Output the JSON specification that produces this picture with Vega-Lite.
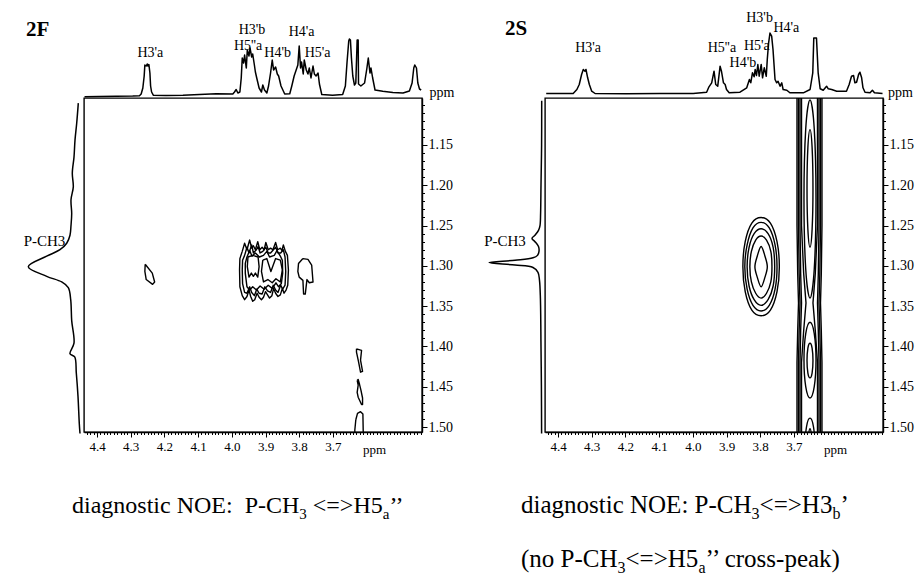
{
"$schema": "https://vega.github.io/schema/vega-lite/v6.json",
"padding": 0,
"background": "white",
"columns": 4,
"spacing": 0,
"bounds": "flush",
"align": "each",
"config": {"view": {"stroke": null}, "text": {"font": "Liberation Serif", "color": "black"}, "line": {"color": "black"},
  "axis": {"grid": false, "labelFont": "Liberation Serif", "labelColor": "black", "tickColor": "black", "domainColor": "black", "labelOverlap": false, "labelFlush": false, "labelBound": false, "titleFont": "Liberation Serif", "titleColor": "black", "titleFontWeight": "normal"}},
"datasets": {
"top2F": [{"x":4.437,"v":1.2},{"x":4.393,"v":1.5},{"x":4.343,"v":1.7},{"x":4.294,"v":2.0},{"x":4.274,"v":2.3},{"x":4.269,"v":4},{"x":4.264,"v":10},{"x":4.260,"v":22},{"x":4.258,"v":33},{"x":4.254,"v":32},{"x":4.251,"v":34},{"x":4.249,"v":32},{"x":4.246,"v":33.5},{"x":4.243,"v":25},{"x":4.241,"v":12},{"x":4.238,"v":6},{"x":4.233,"v":2.8},{"x":4.195,"v":2.5},{"x":4.145,"v":2.8},{"x":4.096,"v":3.6},{"x":4.046,"v":4.2},{"x":3.997,"v":4},{"x":3.992,"v":6},{"x":3.987,"v":8.5},{"x":3.982,"v":5},{"x":3.976,"v":6},{"x":3.972,"v":20},{"x":3.969,"v":40},{"x":3.965,"v":35},{"x":3.962,"v":43},{"x":3.957,"v":30},{"x":3.954,"v":48},{"x":3.949,"v":42},{"x":3.946,"v":50},{"x":3.941,"v":41},{"x":3.938,"v":44},{"x":3.933,"v":33},{"x":3.930,"v":26},{"x":3.926,"v":20},{"x":3.919,"v":10},{"x":3.912,"v":6},{"x":3.908,"v":13},{"x":3.903,"v":8},{"x":3.896,"v":5},{"x":3.891,"v":12},{"x":3.885,"v":25},{"x":3.880,"v":38},{"x":3.876,"v":28},{"x":3.870,"v":31},{"x":3.865,"v":24},{"x":3.861,"v":22},{"x":3.854,"v":12},{"x":3.843,"v":4},{"x":3.828,"v":4.2},{"x":3.822,"v":12},{"x":3.815,"v":22},{"x":3.809,"v":28},{"x":3.804,"v":33},{"x":3.800,"v":52},{"x":3.796,"v":30},{"x":3.793,"v":36},{"x":3.788,"v":24},{"x":3.785,"v":38},{"x":3.779,"v":28},{"x":3.774,"v":24},{"x":3.770,"v":30},{"x":3.765,"v":20},{"x":3.759,"v":32},{"x":3.755,"v":24},{"x":3.750,"v":22},{"x":3.744,"v":25},{"x":3.740,"v":14},{"x":3.733,"v":3.5},{"x":3.701,"v":2.8},{"x":3.671,"v":3.5},{"x":3.663,"v":12},{"x":3.658,"v":36},{"x":3.653,"v":57},{"x":3.651,"v":59},{"x":3.648,"v":58},{"x":3.645,"v":40},{"x":3.641,"v":22},{"x":3.636,"v":13},{"x":3.632,"v":15},{"x":3.628,"v":58},{"x":3.625,"v":58},{"x":3.624,"v":14},{"x":3.617,"v":12},{"x":3.606,"v":15},{"x":3.599,"v":30},{"x":3.595,"v":40},{"x":3.590,"v":25},{"x":3.587,"v":30},{"x":3.582,"v":20},{"x":3.575,"v":8},{"x":3.552,"v":6.8},{"x":3.522,"v":5.5},{"x":3.492,"v":5},{"x":3.473,"v":7},{"x":3.465,"v":15},{"x":3.460,"v":30},{"x":3.457,"v":33},{"x":3.452,"v":30},{"x":3.448,"v":15},{"x":3.443,"v":9},{"x":3.438,"v":8}],
"top2S": [{"x":4.435,"v":4.5},{"x":4.355,"v":4.5},{"x":4.344,"v":8.5},{"x":4.337,"v":13.5},{"x":4.330,"v":23.5},{"x":4.325,"v":28.5},{"x":4.320,"v":26.8},{"x":4.317,"v":28.5},{"x":4.312,"v":20.2},{"x":4.307,"v":13.5},{"x":4.300,"v":6.8},{"x":4.290,"v":4.5},{"x":4.197,"v":4.2},{"x":4.098,"v":4.5},{"x":3.999,"v":4.5},{"x":3.959,"v":5.8},{"x":3.952,"v":11.2},{"x":3.944,"v":15.2},{"x":3.937,"v":26.8},{"x":3.932,"v":13.5},{"x":3.926,"v":11.8},{"x":3.919,"v":31.8},{"x":3.915,"v":26.8},{"x":3.909,"v":15.2},{"x":3.904,"v":13.5},{"x":3.900,"v":8.5},{"x":3.892,"v":5.2},{"x":3.860,"v":5.8},{"x":3.840,"v":10.2},{"x":3.832,"v":18.5},{"x":3.828,"v":15.2},{"x":3.823,"v":25.2},{"x":3.818,"v":21.2},{"x":3.815,"v":28.5},{"x":3.811,"v":22.5},{"x":3.807,"v":33.5},{"x":3.803,"v":21.8},{"x":3.797,"v":33.5},{"x":3.793,"v":20.2},{"x":3.788,"v":30.2},{"x":3.782,"v":21.8},{"x":3.779,"v":38.5},{"x":3.775,"v":55.2},{"x":3.771,"v":65},{"x":3.766,"v":61.8},{"x":3.762,"v":48.5},{"x":3.756,"v":18.5},{"x":3.751,"v":15.2},{"x":3.747,"v":16.8},{"x":3.741,"v":11.8},{"x":3.736,"v":15.2},{"x":3.732,"v":8.5},{"x":3.721,"v":7.8},{"x":3.712,"v":5.2},{"x":3.672,"v":5.2},{"x":3.652,"v":8.5},{"x":3.644,"v":25.2},{"x":3.641,"v":60},{"x":3.633,"v":60},{"x":3.628,"v":25.2},{"x":3.622,"v":9.2},{"x":3.613,"v":7.8},{"x":3.603,"v":11.8},{"x":3.598,"v":9.2},{"x":3.588,"v":8.5},{"x":3.573,"v":6.8},{"x":3.544,"v":6.8},{"x":3.536,"v":13.5},{"x":3.529,"v":21.8},{"x":3.523,"v":22.5},{"x":3.519,"v":15.2},{"x":3.514,"v":15.8},{"x":3.508,"v":23.5},{"x":3.504,"v":25.8},{"x":3.499,"v":20.2},{"x":3.495,"v":10.2},{"x":3.489,"v":5.8},{"x":3.474,"v":5.2},{"x":3.467,"v":7.8},{"x":3.461,"v":5.2},{"x":3.437,"v":4.5}],
"left2F": [{"y":1.098,"u":5.7},{"y":1.123,"u":7.3},{"y":1.144,"u":9},{"y":1.165,"u":10},{"y":1.185,"u":11.7},{"y":1.202,"u":10.7},{"y":1.218,"u":13},{"y":1.235,"u":12.3},{"y":1.250,"u":13},{"y":1.262,"u":14},{"y":1.272,"u":17.3},{"y":1.280,"u":24},{"y":1.288,"u":37.3},{"y":1.301,"u":55.7},{"y":1.313,"u":37.3},{"y":1.320,"u":22.3},{"y":1.327,"u":15.7},{"y":1.342,"u":13.3},{"y":1.368,"u":12.3},{"y":1.396,"u":10},{"y":1.409,"u":14},{"y":1.413,"u":9.3},{"y":1.433,"u":7.7},{"y":1.462,"u":6},{"y":1.496,"u":4.7},{"y":1.508,"u":4}],
"left2S": [{"y":1.095,"u":3.3},{"y":1.15,"u":3.4},{"y":1.20,"u":4},{"y":1.235,"u":4.4},{"y":1.250,"u":5},{"y":1.256,"u":6.5},{"y":1.262,"u":10},{"y":1.266,"u":13},{"y":1.270,"u":10},{"y":1.276,"u":6.5},{"y":1.282,"u":6},{"y":1.287,"u":7.5},{"y":1.290,"u":12},{"y":1.293,"u":30},{"y":1.296,"u":56},{"y":1.299,"u":30},{"y":1.302,"u":12},{"y":1.308,"u":7},{"y":1.318,"u":5.5},{"y":1.340,"u":4.6},{"y":1.40,"u":4},{"y":1.45,"u":3.6},{"y":1.508,"u":3.4}],
"c2F": [
{"k":"C1","x":3.969,"y":1.282},{"k":"C1","x":3.962,"y":1.272},{"k":"C1","x":3.955,"y":1.280},{"k":"C1","x":3.947,"y":1.268},{"k":"C1","x":3.941,"y":1.278},{"k":"C1","x":3.936,"y":1.275},{"k":"C1","x":3.930,"y":1.280},{"k":"C1","x":3.923,"y":1.270},{"k":"C1","x":3.917,"y":1.280},{"k":"C1","x":3.910,"y":1.277},{"k":"C1","x":3.904,"y":1.280},{"k":"C1","x":3.899,"y":1.271},{"k":"C1","x":3.892,"y":1.280},{"k":"C1","x":3.885,"y":1.278},{"k":"C1","x":3.878,"y":1.280},{"k":"C1","x":3.870,"y":1.271},{"k":"C1","x":3.864,"y":1.280},{"k":"C1","x":3.856,"y":1.278},{"k":"C1","x":3.851,"y":1.281},{"k":"C1","x":3.847,"y":1.274},{"k":"C1","x":3.841,"y":1.282},{"k":"C1","x":3.835,"y":1.287},{"k":"C1","x":3.832,"y":1.305},{"k":"C1","x":3.834,"y":1.324},{"k":"C1","x":3.839,"y":1.330},{"k":"C1","x":3.845,"y":1.334},{"k":"C1","x":3.850,"y":1.328},{"k":"C1","x":3.856,"y":1.336},{"k":"C1","x":3.863,"y":1.338},{"k":"C1","x":3.870,"y":1.334},{"k":"C1","x":3.876,"y":1.328},{"k":"C1","x":3.881,"y":1.337},{"k":"C1","x":3.888,"y":1.340},{"k":"C1","x":3.894,"y":1.336},{"k":"C1","x":3.900,"y":1.332},{"k":"C1","x":3.906,"y":1.339},{"k":"C1","x":3.912,"y":1.342},{"k":"C1","x":3.919,"y":1.339},{"k":"C1","x":3.925,"y":1.334},{"k":"C1","x":3.932,"y":1.342},{"k":"C1","x":3.938,"y":1.344},{"k":"C1","x":3.944,"y":1.338},{"k":"C1","x":3.949,"y":1.330},{"k":"C1","x":3.955,"y":1.338},{"k":"C1","x":3.962,"y":1.342},{"k":"C1","x":3.969,"y":1.337},{"k":"C1","x":3.976,"y":1.326},{"k":"C1","x":3.977,"y":1.305},{"k":"C1","x":3.976,"y":1.291},{"k":"C1","x":3.969,"y":1.282},
{"k":"C2","x":3.962,"y":1.287},{"k":"C2","x":3.955,"y":1.277},{"k":"C2","x":3.949,"y":1.284},{"k":"C2","x":3.941,"y":1.274},{"k":"C2","x":3.936,"y":1.284},{"k":"C2","x":3.927,"y":1.280},{"k":"C2","x":3.922,"y":1.276},{"k":"C2","x":3.916,"y":1.284},{"k":"C2","x":3.908,"y":1.282},{"k":"C2","x":3.899,"y":1.277},{"k":"C2","x":3.892,"y":1.284},{"k":"C2","x":3.885,"y":1.284},{"k":"C2","x":3.870,"y":1.277},{"k":"C2","x":3.863,"y":1.284},{"k":"C2","x":3.855,"y":1.284},{"k":"C2","x":3.847,"y":1.280},{"k":"C2","x":3.842,"y":1.289},{"k":"C2","x":3.840,"y":1.307},{"k":"C2","x":3.842,"y":1.324},{"k":"C2","x":3.849,"y":1.329},{"k":"C2","x":3.855,"y":1.324},{"k":"C2","x":3.863,"y":1.333},{"k":"C2","x":3.870,"y":1.330},{"k":"C2","x":3.877,"y":1.324},{"k":"C2","x":3.885,"y":1.333},{"k":"C2","x":3.894,"y":1.331},{"k":"C2","x":3.902,"y":1.326},{"k":"C2","x":3.910,"y":1.335},{"k":"C2","x":3.919,"y":1.334},{"k":"C2","x":3.926,"y":1.329},{"k":"C2","x":3.933,"y":1.337},{"k":"C2","x":3.941,"y":1.333},{"k":"C2","x":3.947,"y":1.326},{"k":"C2","x":3.955,"y":1.334},{"k":"C2","x":3.962,"y":1.333},{"k":"C2","x":3.968,"y":1.322},{"k":"C2","x":3.969,"y":1.305},{"k":"C2","x":3.968,"y":1.293},{"k":"C2","x":3.962,"y":1.287},
{"k":"C3","x":3.955,"y":1.289},{"k":"C3","x":3.947,"y":1.281},{"k":"C3","x":3.940,"y":1.288},{"k":"C3","x":3.930,"y":1.284},{"k":"C3","x":3.918,"y":1.289},{"k":"C3","x":3.906,"y":1.287},{"k":"C3","x":3.896,"y":1.282},{"k":"C3","x":3.888,"y":1.289},{"k":"C3","x":3.874,"y":1.287},{"k":"C3","x":3.866,"y":1.281},{"k":"C3","x":3.856,"y":1.288},{"k":"C3","x":3.850,"y":1.293},{"k":"C3","x":3.849,"y":1.309},{"k":"C3","x":3.853,"y":1.322},{"k":"C3","x":3.861,"y":1.326},{"k":"C3","x":3.869,"y":1.321},{"k":"C3","x":3.880,"y":1.328},{"k":"C3","x":3.892,"y":1.324},{"k":"C3","x":3.904,"y":1.329},{"k":"C3","x":3.916,"y":1.325},{"k":"C3","x":3.927,"y":1.330},{"k":"C3","x":3.938,"y":1.326},{"k":"C3","x":3.947,"y":1.330},{"k":"C3","x":3.955,"y":1.326},{"k":"C3","x":3.960,"y":1.309},{"k":"C3","x":3.960,"y":1.297},{"k":"C3","x":3.955,"y":1.289},
{"k":"C4a","x":3.952,"y":1.289},{"k":"C4a","x":3.938,"y":1.287},{"k":"C4a","x":3.922,"y":1.289},{"k":"C4a","x":3.919,"y":1.301},{"k":"C4a","x":3.923,"y":1.314},{"k":"C4a","x":3.930,"y":1.309},{"k":"C4a","x":3.936,"y":1.313},{"k":"C4a","x":3.942,"y":1.309},{"k":"C4a","x":3.949,"y":1.314},{"k":"C4a","x":3.954,"y":1.301},{"k":"C4a","x":3.952,"y":1.289},
{"k":"C4b","x":3.908,"y":1.293},{"k":"C4b","x":3.896,"y":1.291},{"k":"C4b","x":3.884,"y":1.307},{"k":"C4b","x":3.870,"y":1.291},{"k":"C4b","x":3.856,"y":1.293},{"k":"C4b","x":3.850,"y":1.305},{"k":"C4b","x":3.856,"y":1.320},{"k":"C4b","x":3.869,"y":1.316},{"k":"C4b","x":3.880,"y":1.321},{"k":"C4b","x":3.893,"y":1.317},{"k":"C4b","x":3.906,"y":1.320},{"k":"C4b","x":3.912,"y":1.307},{"k":"C4b","x":3.908,"y":1.293},
{"k":"D","x":4.257,"y":1.298},{"k":"D","x":4.236,"y":1.309},{"k":"D","x":4.229,"y":1.320},{"k":"D","x":4.235,"y":1.323},{"k":"D","x":4.254,"y":1.317},{"k":"D","x":4.258,"y":1.307},{"k":"D","x":4.257,"y":1.298},
{"k":"E","x":3.789,"y":1.291},{"k":"E","x":3.774,"y":1.292},{"k":"E","x":3.763,"y":1.299},{"k":"E","x":3.759,"y":1.320},{"k":"E","x":3.770,"y":1.321},{"k":"E","x":3.777,"y":1.317},{"k":"E","x":3.782,"y":1.335},{"k":"E","x":3.787,"y":1.335},{"k":"E","x":3.789,"y":1.318},{"k":"E","x":3.800,"y":1.314},{"k":"E","x":3.804,"y":1.307},{"k":"E","x":3.802,"y":1.297},{"k":"E","x":3.789,"y":1.291},
{"k":"F0","x":3.630,"y":1.403},{"k":"F0","x":3.615,"y":1.405},{"k":"F0","x":3.618,"y":1.417},{"k":"F0","x":3.612,"y":1.431},{"k":"F0","x":3.618,"y":1.432},{"k":"F0","x":3.624,"y":1.419},{"k":"F0","x":3.630,"y":1.407},{"k":"F0","x":3.630,"y":1.403},
{"k":"F1","x":3.628,"y":1.442},{"k":"F1","x":3.625,"y":1.448},{"k":"F1","x":3.628,"y":1.457},{"k":"F1","x":3.625,"y":1.463},{"k":"F1","x":3.615,"y":1.472},{"k":"F1","x":3.612,"y":1.472},{"k":"F1","x":3.612,"y":1.464},{"k":"F1","x":3.617,"y":1.454},{"k":"F1","x":3.621,"y":1.447},{"k":"F1","x":3.625,"y":1.441},{"k":"F1","x":3.628,"y":1.442},
{"k":"F2","x":3.632,"y":1.491},{"k":"F2","x":3.627,"y":1.483},{"k":"F2","x":3.618,"y":1.481},{"k":"F2","x":3.611,"y":1.484},{"k":"F2","x":3.610,"y":1.506},{"k":"F2","x":3.610,"y":1.522},{"k":"F2","x":3.633,"y":1.522},{"k":"F2","x":3.635,"y":1.504},{"k":"F2","x":3.632,"y":1.491}],
"c2Sk": [
{"k":"K1","x":3.6908,"y":1.00},{"k":"K1","x":3.6908,"y":1.25},{"k":"K1","x":3.6887,"y":1.31},{"k":"K1","x":3.6863,"y":1.346},{"k":"K1","x":3.6887,"y":1.38},{"k":"K1","x":3.6908,"y":1.42},{"k":"K1","x":3.6908,"y":1.60},{"k":"K1","x":3.6167,"y":1.60},{"k":"K1","x":3.6167,"y":1.42},{"k":"K1","x":3.6187,"y":1.38},{"k":"K1","x":3.6211,"y":1.346},{"k":"K1","x":3.6187,"y":1.31},{"k":"K1","x":3.6167,"y":1.25},{"k":"K1","x":3.6167,"y":1.00},{"k":"K1","x":3.6908,"y":1.00},
{"k":"K2","x":3.6864,"y":1.00},{"k":"K2","x":3.6864,"y":1.25},{"k":"K2","x":3.6844,"y":1.31},{"k":"K2","x":3.6819,"y":1.346},{"k":"K2","x":3.6844,"y":1.38},{"k":"K2","x":3.6864,"y":1.42},{"k":"K2","x":3.6864,"y":1.60},{"k":"K2","x":3.6210,"y":1.60},{"k":"K2","x":3.6210,"y":1.42},{"k":"K2","x":3.6231,"y":1.38},{"k":"K2","x":3.6255,"y":1.346},{"k":"K2","x":3.6231,"y":1.31},{"k":"K2","x":3.6210,"y":1.25},{"k":"K2","x":3.6210,"y":1.00},{"k":"K2","x":3.6864,"y":1.00},
{"k":"K3","x":3.6819,"y":1.00},{"k":"K3","x":3.6819,"y":1.25},{"k":"K3","x":3.6799,"y":1.31},{"k":"K3","x":3.6774,"y":1.346},{"k":"K3","x":3.6799,"y":1.38},{"k":"K3","x":3.6819,"y":1.42},{"k":"K3","x":3.6819,"y":1.60},{"k":"K3","x":3.6255,"y":1.60},{"k":"K3","x":3.6255,"y":1.42},{"k":"K3","x":3.6276,"y":1.38},{"k":"K3","x":3.6300,"y":1.346},{"k":"K3","x":3.6276,"y":1.31},{"k":"K3","x":3.6255,"y":1.25},{"k":"K3","x":3.6255,"y":1.00},{"k":"K3","x":3.6819,"y":1.00},
{"k":"K4","x":3.6774,"y":1.00},{"k":"K4","x":3.6774,"y":1.25},{"k":"K4","x":3.6709,"y":1.31},{"k":"K4","x":3.6641,"y":1.346},{"k":"K4","x":3.6709,"y":1.38},{"k":"K4","x":3.6774,"y":1.42},{"k":"K4","x":3.6774,"y":1.60},{"k":"K4","x":3.6300,"y":1.60},{"k":"K4","x":3.6300,"y":1.42},{"k":"K4","x":3.6366,"y":1.38},{"k":"K4","x":3.6434,"y":1.346},{"k":"K4","x":3.6366,"y":1.31},{"k":"K4","x":3.6300,"y":1.25},{"k":"K4","x":3.6300,"y":1.00},{"k":"K4","x":3.6774,"y":1.00}],
"c2Se": [
{"k":"E1","x":3.8514,"y":1.301},{"k":"E1","x":3.8445,"y":1.332},{"k":"E1","x":3.8249,"y":1.355},{"k":"E1","x":3.7973,"y":1.362},{"k":"E1","x":3.7697,"y":1.355},{"k":"E1","x":3.7501,"y":1.332},{"k":"E1","x":3.7432,"y":1.301},{"k":"E1","x":3.7501,"y":1.270},{"k":"E1","x":3.7697,"y":1.247},{"k":"E1","x":3.7973,"y":1.240},{"k":"E1","x":3.8249,"y":1.247},{"k":"E1","x":3.8445,"y":1.270},
{"k":"E2","x":3.8457,"y":1.301},{"k":"E2","x":3.8388,"y":1.329},{"k":"E2","x":3.8215,"y":1.349},{"k":"E2","x":3.7973,"y":1.356},{"k":"E2","x":3.7731,"y":1.349},{"k":"E2","x":3.7559,"y":1.329},{"k":"E2","x":3.7501,"y":1.301},{"k":"E2","x":3.7559,"y":1.274},{"k":"E2","x":3.7731,"y":1.253},{"k":"E2","x":3.7973,"y":1.246},{"k":"E2","x":3.8215,"y":1.253},{"k":"E2","x":3.8388,"y":1.274},
{"k":"E3","x":3.8388,"y":1.301},{"k":"E3","x":3.8330,"y":1.325},{"k":"E3","x":3.8180,"y":1.342},{"k":"E3","x":3.7973,"y":1.349},{"k":"E3","x":3.7766,"y":1.342},{"k":"E3","x":3.7616,"y":1.325},{"k":"E3","x":3.7570,"y":1.301},{"k":"E3","x":3.7616,"y":1.277},{"k":"E3","x":3.7766,"y":1.260},{"k":"E3","x":3.7973,"y":1.254},{"k":"E3","x":3.8180,"y":1.260},{"k":"E3","x":3.8330,"y":1.277},
{"k":"E4","x":3.8307,"y":1.301},{"k":"E4","x":3.8261,"y":1.320},{"k":"E4","x":3.8134,"y":1.334},{"k":"E4","x":3.7973,"y":1.340},{"k":"E4","x":3.7812,"y":1.334},{"k":"E4","x":3.7685,"y":1.320},{"k":"E4","x":3.7651,"y":1.301},{"k":"E4","x":3.7685,"y":1.282},{"k":"E4","x":3.7812,"y":1.268},{"k":"E4","x":3.7973,"y":1.263},{"k":"E4","x":3.8134,"y":1.268},{"k":"E4","x":3.8261,"y":1.282},
{"k":"E5","x":3.8157,"y":1.301},{"k":"E5","x":3.8088,"y":1.314},{"k":"E5","x":3.7973,"y":1.326},{"k":"E5","x":3.7858,"y":1.314},{"k":"E5","x":3.7789,"y":1.301},{"k":"E5","x":3.7858,"y":1.288},{"k":"E5","x":3.7973,"y":1.276},{"k":"E5","x":3.8088,"y":1.288},
{"k":"U1","x":3.6701,"y":1.217},{"k":"U1","x":3.6649,"y":1.304},{"k":"U1","x":3.6522,"y":1.340},{"k":"U1","x":3.6396,"y":1.304},{"k":"U1","x":3.6344,"y":1.217},{"k":"U1","x":3.6396,"y":1.130},{"k":"U1","x":3.6522,"y":1.094},{"k":"U1","x":3.6649,"y":1.130},
{"k":"U2","x":3.6611,"y":1.204},{"k":"U2","x":3.6585,"y":1.255},{"k":"U2","x":3.6522,"y":1.277},{"k":"U2","x":3.6460,"y":1.255},{"k":"U2","x":3.6434,"y":1.204},{"k":"U2","x":3.6460,"y":1.153},{"k":"U2","x":3.6522,"y":1.131},{"k":"U2","x":3.6585,"y":1.153},
{"k":"L1","x":3.6701,"y":1.417},{"k":"L1","x":3.6649,"y":1.450},{"k":"L1","x":3.6522,"y":1.464},{"k":"L1","x":3.6396,"y":1.450},{"k":"L1","x":3.6344,"y":1.417},{"k":"L1","x":3.6396,"y":1.384},{"k":"L1","x":3.6522,"y":1.370},{"k":"L1","x":3.6649,"y":1.384},
{"k":"L2","x":3.6611,"y":1.4175},{"k":"L2","x":3.6585,"y":1.433},{"k":"L2","x":3.6522,"y":1.439},{"k":"L2","x":3.6460,"y":1.433},{"k":"L2","x":3.6434,"y":1.4175},{"k":"L2","x":3.6460,"y":1.402},{"k":"L2","x":3.6522,"y":1.396},{"k":"L2","x":3.6585,"y":1.402},
{"k":"B1","x":3.6671,"y":1.527},{"k":"B1","x":3.6627,"y":1.554},{"k":"B1","x":3.6522,"y":1.566},{"k":"B1","x":3.6418,"y":1.554},{"k":"B1","x":3.6374,"y":1.527},{"k":"B1","x":3.6418,"y":1.500},{"k":"B1","x":3.6522,"y":1.489},{"k":"B1","x":3.6627,"y":1.500},
{"k":"B2","x":3.6582,"y":1.534},{"k":"B2","x":3.6565,"y":1.557},{"k":"B2","x":3.6522,"y":1.566},{"k":"B2","x":3.6480,"y":1.557},{"k":"B2","x":3.6462,"y":1.534},{"k":"B2","x":3.6480,"y":1.511},{"k":"B2","x":3.6522,"y":1.502},{"k":"B2","x":3.6565,"y":1.511}],
"lab2F": [{"t":"H3'a","x":4.2417,"v":41},{"t":"H3'b","x":3.9401,"v":64},{"t":"H5''a","x":3.9516,"v":48.5},{"t":"H4'b","x":3.8641,"v":41},{"t":"H4'a","x":3.7927,"v":62.5},{"t":"H5'a","x":3.7455,"v":41}],
"lab2S": [{"t":"H3'a","x":4.3108,"v":46},{"t":"H5''a","x":3.9136,"v":46},{"t":"H5'a","x":3.8100,"v":48},{"t":"H4'b","x":3.8514,"v":31},{"t":"H3'b","x":3.8019,"v":76},{"t":"H4'a","x":3.7225,"v":66}],
"cap2F": [{"t":"diagnostic NOE:\u00a0 P-CH","x":4.4742,"y":1.6068,"sub":false},{"t":"3","x":3.7997,"y":1.6068,"sub":true},{"t":"<=>H5","x":3.7597,"y":1.6068,"sub":false},{"t":"a","x":3.5522,"y":1.6068,"sub":true},{"t":"’’","x":3.5324,"y":1.6068,"sub":false}],
"cap2S": [{"t":"diagnostic NOE: P-CH","x":4.5098,"y":1.6068,"sub":false},{"t":"3","x":3.8257,"y":1.6068,"sub":true},{"t":"<=>H3","x":3.8019,"y":1.6068,"sub":false},{"t":"b","x":3.5858,"y":1.6068,"sub":true},{"t":"’","x":3.5620,"y":1.6068,"sub":false},{"t":"(no P-CH","x":4.5098,"y":1.6738,"sub":false},{"t":"3","x":4.2234,"y":1.6738,"sub":true},{"t":"<=>H5","x":4.1997,"y":1.6738,"sub":false},{"t":"a","x":3.9834,"y":1.6738,"sub":true},{"t":"’’ cross-peak)","x":3.9623,"y":1.6738,"sub":false}]
},
"concat": [
{"width": 84, "height": 98, "data": {"values": []}, "mark": "point"},
{"width": 338, "height": 98,
 "layer": [
  {"data": {"name": "top2F"}, "mark": {"type": "line", "strokeWidth": 1.5, "strokeJoin": "round"},
   "encoding": {"x": {"field": "x", "type": "quantitative", "scale": {"domain": [3.4356, 4.4386], "reverse": true, "nice": false, "zero": false}, "axis": null},
                "y": {"field": "v", "type": "quantitative", "scale": {"domain": [0, 98], "nice": false, "zero": false}, "axis": null}}},
  {"data": {"name": "lab2F"}, "mark": {"type": "text", "align": "center", "baseline": "alphabetic", "fontSize": 14, "font": "Liberation Serif"},
   "encoding": {"x": {"field": "x", "type": "quantitative", "scale": {"domain": [3.4356, 4.4386], "reverse": true, "nice": false, "zero": false}}, "y": {"field": "v", "type": "quantitative", "scale": {"domain": [0, 98], "nice": false, "zero": false}}, "text": {"field": "t"}}},
  {"data": {"values": [{"t": "ppm", "x": 3.4133, "v": 1}]}, "mark": {"type": "text", "align": "left", "baseline": "alphabetic", "fontSize": 14, "font": "Liberation Serif"},
   "encoding": {"x": {"field": "x", "type": "quantitative", "scale": {"domain": [3.4356, 4.4386], "reverse": true, "nice": false, "zero": false}}, "y": {"field": "v", "type": "quantitative", "scale": {"domain": [0, 98], "nice": false, "zero": false}}, "text": {"field": "t"}}},
  {"data": {"values": [{"t": "2F", "x": 4.6107, "v": 62}]}, "mark": {"type": "text", "align": "left", "baseline": "alphabetic", "fontSize": 21, "fontWeight": "bold", "font": "Liberation Serif"},
   "encoding": {"x": {"field": "x", "type": "quantitative", "scale": {"domain": [3.4356, 4.4386], "reverse": true, "nice": false, "zero": false}}, "y": {"field": "v", "type": "quantitative", "scale": {"domain": [0, 98], "nice": false, "zero": false}}, "text": {"field": "t"}}}
 ]},
{"width": 123, "height": 98, "data": {"values": []}, "mark": "point"},
{"width": 338, "height": 98,
 "layer": [
  {"data": {"name": "top2S"}, "mark": {"type": "line", "strokeWidth": 1.5, "strokeJoin": "round"},
   "encoding": {"x": {"field": "x", "type": "quantitative", "scale": {"domain": [3.4356, 4.4386], "reverse": true, "nice": false, "zero": false}, "axis": null},
                "y": {"field": "v", "type": "quantitative", "scale": {"domain": [0, 98], "nice": false, "zero": false}, "axis": null}}},
  {"data": {"name": "lab2S"}, "mark": {"type": "text", "align": "center", "baseline": "alphabetic", "fontSize": 14, "font": "Liberation Serif"},
   "encoding": {"x": {"field": "x", "type": "quantitative", "scale": {"domain": [3.4356, 4.4386], "reverse": true, "nice": false, "zero": false}}, "y": {"field": "v", "type": "quantitative", "scale": {"domain": [0, 98], "nice": false, "zero": false}}, "text": {"field": "t"}}},
  {"data": {"values": [{"t": "ppm", "x": 3.4208, "v": 1}]}, "mark": {"type": "text", "align": "left", "baseline": "alphabetic", "fontSize": 14, "font": "Liberation Serif"},
   "encoding": {"x": {"field": "x", "type": "quantitative", "scale": {"domain": [3.4356, 4.4386], "reverse": true, "nice": false, "zero": false}}, "y": {"field": "v", "type": "quantitative", "scale": {"domain": [0, 98], "nice": false, "zero": false}}, "text": {"field": "t"}}},
  {"data": {"values": [{"t": "2S", "x": 4.5572, "v": 63}]}, "mark": {"type": "text", "align": "left", "baseline": "alphabetic", "fontSize": 21, "fontWeight": "bold", "font": "Liberation Serif"},
   "encoding": {"x": {"field": "x", "type": "quantitative", "scale": {"domain": [3.4356, 4.4386], "reverse": true, "nice": false, "zero": false}}, "y": {"field": "v", "type": "quantitative", "scale": {"domain": [0, 98], "nice": false, "zero": false}}, "text": {"field": "t"}}}
 ]},
{"width": 84, "height": 334,
 "layer": [
  {"data": {"name": "left2F"}, "mark": {"type": "line", "strokeWidth": 1.5, "interpolate": "catmull-rom"},
   "encoding": {"x": {"field": "u", "type": "quantitative", "scale": {"domain": [0, 84], "reverse": true, "nice": false, "zero": false}, "axis": null},
                "y": {"field": "y", "type": "quantitative", "scale": {"domain": [1.0917, 1.5062], "reverse": true, "nice": false, "zero": false}, "axis": null},
                "order": {"field": "y", "type": "quantitative"}}},
  {"data": {"values": [{"t": "P-CH3", "u": 39.5, "y": 1.2757}]}, "mark": {"type": "text", "align": "center", "baseline": "alphabetic", "fontSize": 15, "font": "Liberation Serif"},
   "encoding": {"x": {"field": "u", "type": "quantitative", "scale": {"domain": [0, 84], "reverse": true, "nice": false, "zero": false}}, "y": {"field": "y", "type": "quantitative", "scale": {"domain": [1.0917, 1.5062], "reverse": true, "nice": false, "zero": false}}, "text": {"field": "t"}}}
 ]},
{"width": 338, "height": 334, "view": {"stroke": "black", "strokeWidth": 1.4},
 "resolve": {"axis": {"x": "independent", "y": "independent"}},
 "layer": [
  {"data": {"name": "c2F"}, "mark": {"type": "line", "order": false, "clip": true, "strokeWidth": 1.4, "strokeJoin": "round"},
   "encoding": {
    "x": {"field": "x", "type": "quantitative", "scale": {"domain": [3.4356, 4.4386], "reverse": true, "nice": false, "zero": false},
      "axis": {"orient": "bottom", "values": [3.7,3.8,3.9,4,4.1,4.2,4.3,4.4], "format": ".1f", "tickSize": 5, "tickWidth": 1, "domainWidth": 1.4,
        "labelFontSize": 13, "labelPadding": 3, "title": "ppm", "titleFontSize": 13, "titleX": 290, "titleY": 21, "titleAlign": "center", "titleBaseline": "alphabetic"}},
    "y": {"field": "y", "type": "quantitative", "scale": {"domain": [1.0917, 1.5062], "reverse": true, "nice": false, "zero": false},
      "axis": {"orient": "right", "values": [1.15,1.2,1.25,1.3,1.35,1.4,1.45,1.5], "format": ".2f", "tickSize": 5, "tickWidth": 1, "domainWidth": 1.4,
        "labelFontSize": 14, "labelPadding": 1, "title": null}},
    "detail": {"field": "k"}}},
  {"data": {"name": "cap2F"}, "transform": [{"filter": "!datum.sub"}], "mark": {"type": "text", "align": "left", "baseline": "alphabetic", "fontSize": 24, "font": "Liberation Serif"},
   "encoding": {
    "x": {"field": "x", "type": "quantitative", "scale": {"domain": [3.4356, 4.4386], "reverse": true, "nice": false, "zero": false},
      "axis": {"orient": "bottom", "values": [3.44,3.45,3.46,3.47,3.48,3.49,3.5,3.51,3.52,3.53,3.54,3.55,3.56,3.57,3.58,3.59,3.6,3.61,3.62,3.63,3.64,3.65,3.66,3.67,3.68,3.69,3.7,3.71,3.72,3.73,3.74,3.75,3.76,3.77,3.78,3.79,3.8,3.81,3.82,3.83,3.84,3.85,3.86,3.87,3.88,3.89,3.9,3.91,3.92,3.93,3.94,3.95,3.96,3.97,3.98,3.99,4,4.01,4.02,4.03,4.04,4.05,4.06,4.07,4.08,4.09,4.1,4.11,4.12,4.13,4.14,4.15,4.16,4.17,4.18,4.19,4.2,4.21,4.22,4.23,4.24,4.25,4.26,4.27,4.28,4.29,4.3,4.31,4.32,4.33,4.34,4.35,4.36,4.37,4.38,4.39,4.4,4.41,4.42,4.43],
        "labels": false, "domain": false, "tickSize": 2.5, "tickWidth": 1, "title": null}},
    "y": {"field": "y", "type": "quantitative", "scale": {"domain": [1.0917, 1.5062], "reverse": true, "nice": false, "zero": false},
      "axis": {"orient": "right", "values": [1.1,1.11,1.12,1.13,1.14,1.15,1.16,1.17,1.18,1.19,1.2,1.21,1.22,1.23,1.24,1.25,1.26,1.27,1.28,1.29,1.3,1.31,1.32,1.33,1.34,1.35,1.36,1.37,1.38,1.39,1.4,1.41,1.42,1.43,1.44,1.45,1.46,1.47,1.48,1.49,1.5],
        "labels": false, "domain": false, "tickSize": 2.5, "tickWidth": 1, "title": null}},
    "text": {"field": "t"}}},
  {"data": {"name": "cap2F"}, "transform": [{"filter": "datum.sub"}], "mark": {"type": "text", "align": "left", "baseline": "alphabetic", "fontSize": 15, "dy": 6, "font": "Liberation Serif"},
   "encoding": {"x": {"field": "x", "type": "quantitative", "scale": {"domain": [3.4356, 4.4386], "reverse": true, "nice": false, "zero": false}, "axis": null}, "y": {"field": "y", "type": "quantitative", "scale": {"domain": [1.0917, 1.5062], "reverse": true, "nice": false, "zero": false}, "axis": null}, "text": {"field": "t"}}}
 ]},
{"width": 123, "height": 334,
 "layer": [
  {"data": {"name": "left2S"}, "mark": {"type": "line", "strokeWidth": 1.5, "interpolate": "catmull-rom"},
   "encoding": {"x": {"field": "u", "type": "quantitative", "scale": {"domain": [0, 123], "reverse": true, "nice": false, "zero": false}, "axis": null},
                "y": {"field": "y", "type": "quantitative", "scale": {"domain": [1.0917, 1.5062], "reverse": true, "nice": false, "zero": false}, "axis": null},
                "order": {"field": "y", "type": "quantitative"}}},
  {"data": {"values": [{"t": "P-CH3", "u": 40, "y": 1.2757}]}, "mark": {"type": "text", "align": "center", "baseline": "alphabetic", "fontSize": 15, "font": "Liberation Serif"},
   "encoding": {"x": {"field": "u", "type": "quantitative", "scale": {"domain": [0, 123], "reverse": true, "nice": false, "zero": false}}, "y": {"field": "y", "type": "quantitative", "scale": {"domain": [1.0917, 1.5062], "reverse": true, "nice": false, "zero": false}}, "text": {"field": "t"}}}
 ]},
{"width": 338, "height": 334, "view": {"stroke": "black", "strokeWidth": 1.4},
 "resolve": {"axis": {"x": "independent", "y": "independent"}},
 "layer": [
  {"data": {"name": "c2Sk"}, "mark": {"type": "line", "order": false, "clip": true, "strokeWidth": 1.4, "strokeJoin": "round"},
   "encoding": {
    "x": {"field": "x", "type": "quantitative", "scale": {"domain": [3.4356, 4.4386], "reverse": true, "nice": false, "zero": false},
      "axis": {"orient": "bottom", "values": [3.7,3.8,3.9,4,4.1,4.2,4.3,4.4], "format": ".1f", "tickSize": 5, "tickWidth": 1, "domainWidth": 1.4,
        "labelFontSize": 13, "labelPadding": 3, "title": "ppm", "titleFontSize": 13, "titleX": 290, "titleY": 21, "titleAlign": "center", "titleBaseline": "alphabetic"}},
    "y": {"field": "y", "type": "quantitative", "scale": {"domain": [1.0917, 1.5062], "reverse": true, "nice": false, "zero": false},
      "axis": {"orient": "right", "values": [1.15,1.2,1.25,1.3,1.35,1.4,1.45,1.5], "format": ".2f", "tickSize": 5, "tickWidth": 1, "domainWidth": 1.4,
        "labelFontSize": 14, "labelPadding": 1, "title": null}},
    "detail": {"field": "k"}}},
  {"data": {"name": "c2Se"}, "mark": {"type": "line", "order": false, "clip": true, "strokeWidth": 1.4, "interpolate": "cardinal-closed"},
   "encoding": {"x": {"field": "x", "type": "quantitative", "scale": {"domain": [3.4356, 4.4386], "reverse": true, "nice": false, "zero": false}, "axis": null}, "y": {"field": "y", "type": "quantitative", "scale": {"domain": [1.0917, 1.5062], "reverse": true, "nice": false, "zero": false}, "axis": null}, "detail": {"field": "k"}}},
  {"data": {"name": "cap2S"}, "transform": [{"filter": "!datum.sub"}], "mark": {"type": "text", "align": "left", "baseline": "alphabetic", "fontSize": 25, "font": "Liberation Serif"},
   "encoding": {
    "x": {"field": "x", "type": "quantitative", "scale": {"domain": [3.4356, 4.4386], "reverse": true, "nice": false, "zero": false},
      "axis": {"orient": "bottom", "values": [3.44,3.45,3.46,3.47,3.48,3.49,3.5,3.51,3.52,3.53,3.54,3.55,3.56,3.57,3.58,3.59,3.6,3.61,3.62,3.63,3.64,3.65,3.66,3.67,3.68,3.69,3.7,3.71,3.72,3.73,3.74,3.75,3.76,3.77,3.78,3.79,3.8,3.81,3.82,3.83,3.84,3.85,3.86,3.87,3.88,3.89,3.9,3.91,3.92,3.93,3.94,3.95,3.96,3.97,3.98,3.99,4,4.01,4.02,4.03,4.04,4.05,4.06,4.07,4.08,4.09,4.1,4.11,4.12,4.13,4.14,4.15,4.16,4.17,4.18,4.19,4.2,4.21,4.22,4.23,4.24,4.25,4.26,4.27,4.28,4.29,4.3,4.31,4.32,4.33,4.34,4.35,4.36,4.37,4.38,4.39,4.4,4.41,4.42,4.43],
        "labels": false, "domain": false, "tickSize": 2.5, "tickWidth": 1, "title": null}},
    "y": {"field": "y", "type": "quantitative", "scale": {"domain": [1.0917, 1.5062], "reverse": true, "nice": false, "zero": false},
      "axis": {"orient": "right", "values": [1.1,1.11,1.12,1.13,1.14,1.15,1.16,1.17,1.18,1.19,1.2,1.21,1.22,1.23,1.24,1.25,1.26,1.27,1.28,1.29,1.3,1.31,1.32,1.33,1.34,1.35,1.36,1.37,1.38,1.39,1.4,1.41,1.42,1.43,1.44,1.45,1.46,1.47,1.48,1.49,1.5],
        "labels": false, "domain": false, "tickSize": 2.5, "tickWidth": 1, "title": null}},
    "text": {"field": "t"}}},
  {"data": {"name": "cap2S"}, "transform": [{"filter": "datum.sub"}], "mark": {"type": "text", "align": "left", "baseline": "alphabetic", "fontSize": 16, "dy": 6, "font": "Liberation Serif"},
   "encoding": {"x": {"field": "x", "type": "quantitative", "scale": {"domain": [3.4356, 4.4386], "reverse": true, "nice": false, "zero": false}, "axis": null}, "y": {"field": "y", "type": "quantitative", "scale": {"domain": [1.0917, 1.5062], "reverse": true, "nice": false, "zero": false}, "axis": null}, "text": {"field": "t"}}}
 ]}
]
}
